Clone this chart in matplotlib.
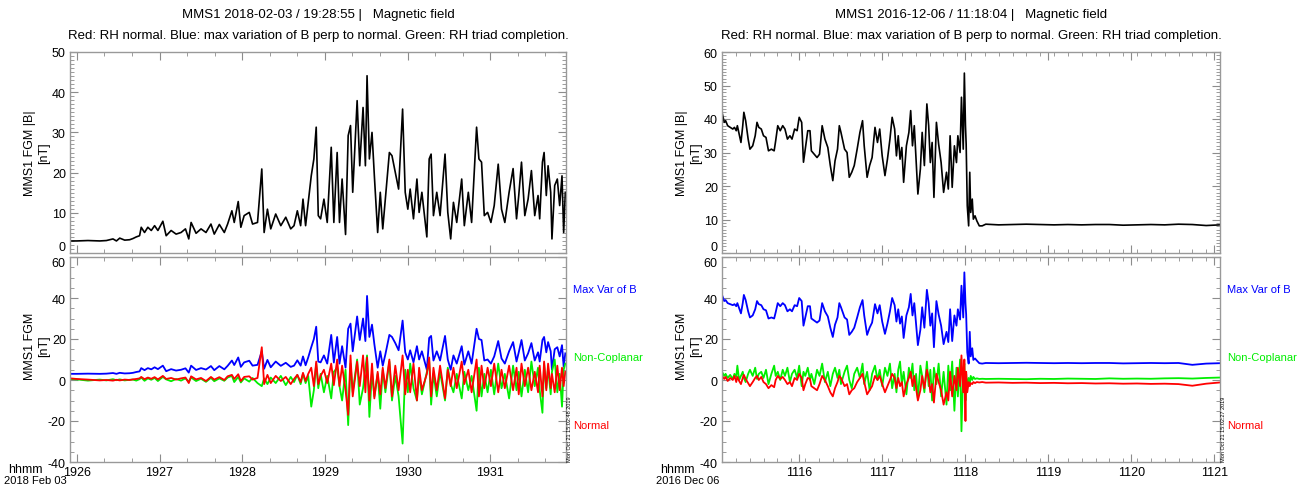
import matplotlib
matplotlib.use("Agg")
import matplotlib.pyplot as plt
from matplotlib.ticker import MultipleLocator, FixedLocator, AutoMinorLocator

plt.rcParams['font.family'] = ['Liberation Sans', 'DejaVu Sans']
plt.rcParams['axes.unicode_minus'] = False

# ---- left event: seconds after 19:26:00 ----
t_left = [-5, 0, 8, 16.6, 21.4, 26.2, 28.7, 31.1, 34.7, 38.3,
          40.7, 43.1, 45.5, 46.7, 49.1, 51.5, 54.0, 56.4, 58.8, 62.4,
          64.8, 68.4, 72.0, 75.6, 78.8, 81.2, 82.9, 86.5, 90.1, 93.7,
          97.3, 99.7, 103.4, 107.0, 109.4, 112.5, 114.2, 117.1, 119.0, 121.4,
          125.1, 127.5, 131.1, 134.2, 135.9, 138.3, 140.7, 144.3, 148.0, 151.6,
          155.2, 157.6, 160.0, 162.4, 164.1, 166.0, 167.9, 170.1, 172.0, 173.7,
          175.2, 176.9, 179.3, 181.7, 184.6, 186.5, 188.9, 190.6, 192.5, 195.0,
          196.9, 198.6, 200.2, 203.4, 205.3, 207.7, 209.4, 210.6, 212.3, 214.2,
          215.9, 218.3, 220.2, 222.0, 223.9, 226.8, 228.7, 231.1, 233.5, 236.4,
          238.3, 240.2, 241.9, 244.3, 246.8, 248.4, 250.4, 254.0, 255.7, 257.1,
          258.8, 261.2, 263.6, 267.2, 269.2, 271.3, 273.3, 275.7, 279.3, 281.2,
          284.1, 286.5, 290.1, 291.8, 293.7, 295.7, 298.1, 300.5, 302.9, 305.8,
          308.2, 310.6, 313.7, 316.6, 319.1, 320.7, 322.7, 325.1, 327.5, 329.9,
          332.3, 334.7, 335.9, 337.9, 339.1, 340.7, 342.0, 343.9, 344.8, 346.8,
          348.7, 350.4, 352.1, 353.3, 354.5]
b_left = [3.0, 3.0, 3.1, 3.0, 3.1, 3.5, 3.0, 3.7, 3.2, 3.3,
          3.6, 4.0, 4.3, 6.4, 5.1, 6.4, 5.6, 6.8, 5.6, 7.9,
          4.3, 5.6, 4.7, 5.1, 6.0, 3.5, 7.6, 4.9, 6.0, 5.1,
          7.2, 4.7, 7.1, 5.1, 7.2, 10.5, 7.6, 12.8, 6.4, 9.3,
          10.1, 7.2, 7.6, 20.9, 5.1, 10.9, 6.0, 9.7, 6.8, 8.9,
          6.0, 6.8, 10.5, 6.8, 13.4, 6.8, 12.6, 19.2, 23.4, 31.3,
          9.3, 8.5, 13.4, 7.6, 26.3, 7.6, 25.0, 7.6, 18.4, 4.6,
          29.2, 31.7, 15.1, 37.9, 21.7, 36.2, 21.7, 44.1, 23.4, 30.0,
          19.2, 5.1, 15.1, 6.0, 13.4, 25.0, 24.2, 20.1, 15.9, 35.8,
          15.1, 10.9, 15.9, 8.5, 18.4, 10.1, 15.1, 4.0, 23.4, 24.6,
          9.3, 15.1, 9.3, 24.6, 10.1, 3.5, 12.6, 7.6, 18.4, 6.8,
          15.1, 7.6, 31.3, 23.4, 22.6, 9.3, 10.1, 7.6, 11.8, 22.1,
          10.9, 7.6, 15.1, 21.0, 8.5, 14.3, 22.6, 9.3, 13.4, 20.5,
          9.3, 14.3, 8.5, 22.6, 25.0, 14.3, 21.7, 15.1, 3.5, 16.8,
          18.4, 11.8, 19.2, 5.1, 15.1]
maxvar_left = [3.0, 3.0, 3.1, 3.0, 3.1, 3.4, 3.0, 3.5, 3.2, 3.3,
               3.5, 3.9, 4.2, 5.8, 4.8, 5.8, 5.2, 6.2, 5.3, 7.0,
               4.3, 5.3, 4.6, 5.0, 5.7, 3.6, 7.0, 4.9, 5.8, 5.1,
               6.8, 4.8, 6.8, 5.2, 6.9, 9.5, 7.3, 11.0, 6.4, 8.6,
               9.4, 7.0, 7.4, 14.0, 5.5, 9.8, 6.2, 9.0, 6.9, 8.4,
               6.4, 7.0, 9.6, 7.0, 11.5, 7.2, 11.0, 16.0, 20.0, 26.0,
               9.0, 8.6, 12.0, 8.0, 22.0, 8.5, 21.0, 8.0, 16.5, 6.0,
               25.0, 27.5, 14.0, 31.0, 19.5, 30.0, 19.0, 41.0, 21.0, 27.0,
               17.5, 6.0, 14.0, 7.0, 12.5, 22.0, 21.0, 18.0, 14.5, 29.0,
               13.5, 10.0, 14.5, 8.6, 16.5, 10.0, 14.0, 5.0, 20.5, 21.5,
               9.5, 14.0, 9.5, 21.5, 10.0, 5.0, 12.0, 8.0, 16.5, 7.5,
               14.0, 8.0, 25.0, 20.0, 19.5, 9.5, 10.0, 8.0, 11.5, 19.0,
               10.5, 8.0, 14.0, 18.5, 9.0, 13.5, 19.5, 9.5, 13.0, 18.0,
               9.5, 13.5, 9.0, 19.5, 21.0, 13.5, 18.5, 14.0, 5.0, 15.0,
               16.0, 11.5, 17.0, 6.5, 13.0]
noncop_left = [0.5, 0.3, -0.3, 0.2, -0.2, 0.4, -0.1, 0.3, -0.2, 0.1,
               0.2, -0.3, 0.4, 1.2, -0.4, 0.8, 0.1, 1.0, -0.5, 1.5,
               0.3, -0.6, 0.5, -0.3, 0.8, -0.8, 1.2, -0.5, 0.6, -0.9,
               1.0, -0.6, 0.8, -0.4, 1.2, 2.0, -1.0, 1.5, -1.2, 0.8,
               -0.8, 1.0, -1.5, -3.0, 0.8, -2.0, 1.2, -1.5, 2.0, -2.5,
               1.5, -1.0, 2.5, -2.0, 3.0, -1.5, 2.0, -13.0, -5.0, 8.0,
               -4.0, 3.0, -6.0, 2.0, -9.0, 4.0, 6.0, -3.0, -10.0, 5.0,
               -22.0, 8.0, -6.0, 10.0, -12.0, -4.0, 6.0, 12.0, -18.0, 4.0,
               -8.0, 3.0, -14.0, 5.0, -6.0, 9.0, -10.0, 2.0, -8.0, -31.0,
               5.0, -6.0, 8.0, -4.0, -10.0, 3.0, -7.0, 4.0, 9.0, -12.0,
               3.0, -8.0, 4.0, -10.0, 6.0, -2.0, -6.0, 3.0, -9.0, 4.0,
               -5.0, 2.0, -15.0, 6.0, -8.0, 3.0, -6.0, 5.0, -7.0, 8.0,
               -4.0, 3.0, -9.0, 7.0, -5.0, 4.0, -8.0, 5.0, -6.0, 9.0,
               -3.0, 6.0, -5.0, -16.0, 8.0, -4.0, 6.0, -7.0, 4.0, 10.0,
               -6.0, 3.0, -13.0, 5.0, 8.0]
normal_left = [0.8, 0.5, 0.2, -0.2, 0.0, -0.3, 0.1, -0.2, 0.2, 0.0,
               0.3, 0.5, 0.8, 1.5, 0.4, 1.2, 0.6, 1.4, 0.3, 2.0,
               0.5, 1.0, 0.2, 0.8, 1.2, -1.5, 1.8, 0.3, 1.0, -0.5,
               1.5, 0.2, 1.4, 0.0, 1.8, 2.5, 0.5, 2.8, -0.5, 1.5,
               1.8, 0.2, 1.0, 16.0, -2.0, 2.5, -1.5, 2.0, -0.5, 1.5,
               -2.0, 0.5, 2.5, -1.0, 3.5, -0.5, 3.0, 6.0, -3.0, 9.0,
               -2.0, 2.0, 5.0, -1.5, 8.0, -2.5, 10.0, -3.0, 7.0, -5.0,
               -17.0, 12.0, -8.0, 9.0, -3.0, 12.0, -6.0, 11.0, -10.0, 8.0,
               -9.0, 4.0, -7.0, 6.0, -4.0, 10.0, -8.0, 7.0, -5.0, 12.0,
               -7.0, 5.0, -6.0, 8.0, -10.0, 6.0, -5.0, 3.0, 11.0, -8.0,
               6.0, -5.0, 7.0, -9.0, 5.0, -3.0, 6.0, -4.0, 9.0, -2.0,
               5.0, -6.0, 10.0, -8.0, 7.0, -4.0, 6.0, -3.0, 8.0, -6.0,
               5.0, -4.0, 7.0, -5.0, 6.0, -7.0, 8.0, -3.0, 6.0, -5.0,
               4.0, -6.0, 7.0, -8.0, 9.0, -5.0, 8.0, -4.0, 3.0, -6.0,
               7.0, -5.0, 6.0, -3.0, 4.0]
ticks_left = [0, 60, 120, 180, 240, 300]
labels_left = ['1926', '1927', '1928', '1929', '1930', '1931']

# ---- right event: seconds after 11:15:04 ----
t_right = [0, 1.6, 2.6, 4.1, 5.9, 7.8, 9.0, 10.3, 11.1, 12.4,
           13.7, 15.0, 15.8, 17.1, 18.9, 20.2, 22.2, 24.0, 25.3, 26.6,
           28.4, 30.0, 31.8, 33.6, 35.7, 37.7, 38.8, 40.3, 42.1, 43.9,
           45.5, 47.3, 49.1, 50.6, 52.5, 54.3, 55.8, 57.6, 58.9, 60.2,
           62.0, 63.6, 64.6, 66.7, 68.7, 70.5, 72.4, 74.4, 76.5, 78.3,
           80.1, 81.7, 83.5, 84.8, 86.0, 88.6, 90.4, 92.0, 93.8, 95.6,
           97.7, 99.7, 101.6, 102.8, 104.9, 106.7, 108.5, 110.6, 112.4, 114.0,
           115.8, 117.8, 119.6, 121.4, 123.0, 124.8, 126.1, 127.4, 128.7, 130.0,
           131.3, 133.3, 135.1, 136.4, 137.7, 139.0, 140.3, 141.6, 143.4, 144.7,
           146.3, 148.1, 149.4, 150.6, 151.9, 153.2, 155.0, 156.6, 158.4, 160.2,
           162.3, 163.6, 164.9, 166.4, 168.0, 169.5, 170.5, 172.1, 173.1, 174.4,
           175.2, 176.0, 176.5, 177.3, 178.3, 179.1, 179.8, 180.9, 181.7, 182.9,
           184.2, 186.0, 188.1, 190.7, 200, 210, 220, 230, 240, 250,
           260, 270, 280, 290, 300, 310, 320, 330, 340, 350, 360]
b_right = [42.0, 39.0, 39.5, 38.0, 37.5, 37.0, 37.5, 36.5, 38.0, 35.5,
           33.0, 38.0, 42.0, 39.5, 34.0, 31.0, 32.0, 35.0, 39.0, 37.5,
           37.0, 35.0, 34.5, 30.5, 31.0, 30.5, 33.5, 38.0, 36.5, 38.0,
           37.0, 34.0, 35.0, 34.0, 37.0, 36.5, 40.5, 39.0, 27.1, 31.0,
           36.5, 36.5, 30.5, 29.5, 28.5, 29.5, 38.0, 34.0, 31.5, 26.1,
           21.6, 27.5, 31.0, 38.0, 36.0, 31.0, 30.0, 22.6, 24.1, 26.1,
           31.0, 36.0, 39.5, 32.0, 22.6, 26.1, 28.5, 37.5, 33.0, 37.0,
           29.0, 23.1, 28.0, 34.0, 40.5, 37.0, 29.0, 35.0, 28.0, 31.5,
           21.1, 32.0, 36.0, 42.5, 32.0, 38.0, 28.0, 17.6, 25.1, 36.0,
           26.1, 44.5, 38.0, 27.0, 33.0, 16.6, 39.0, 32.5, 27.0, 18.1,
           24.1, 19.1, 35.0, 19.6, 32.0, 27.0, 35.0, 30.0, 46.5, 31.0,
           53.7, 38.0, 32.5, 14.1, 8.1, 24.1, 12.1, 16.1, 10.1, 11.1,
           9.6, 8.1, 8.1, 8.6, 8.4, 8.5, 8.6, 8.5, 8.4, 8.5,
           8.4, 8.5, 8.5, 8.3, 8.4, 8.5, 8.4, 8.6, 8.5, 8.2, 8.4]
maxvar_right = [41.5, 38.5, 39.0, 37.5, 37.0, 36.5, 37.0, 36.0, 37.5, 35.0,
                32.5, 37.5, 41.5, 39.0, 33.5, 30.5, 31.5, 34.5, 38.5, 37.0,
                36.5, 34.5, 34.0, 30.0, 30.5, 30.0, 33.0, 37.5, 36.0, 37.5,
                36.5, 33.5, 34.5, 33.5, 36.5, 36.0, 40.0, 38.5, 26.5, 30.5,
                36.0, 36.0, 30.0, 29.0, 28.0, 29.0, 37.5, 33.5, 31.0, 25.5,
                21.0, 27.0, 30.5, 37.5, 35.5, 30.5, 29.5, 22.0, 23.5, 25.5,
                30.5, 35.5, 39.0, 31.5, 22.0, 25.5, 28.0, 37.0, 32.5, 36.5,
                28.5, 22.5, 27.5, 33.5, 40.0, 36.5, 28.5, 34.5, 27.5, 31.0,
                20.5, 31.5, 35.5, 42.0, 31.5, 37.5, 27.5, 17.0, 24.5, 35.5,
                25.5, 44.0, 37.5, 26.5, 32.5, 16.0, 38.5, 32.0, 26.5, 17.5,
                23.5, 18.5, 34.5, 19.0, 31.5, 26.5, 34.5, 29.5, 46.0, 30.5,
                52.5, 37.5, 32.0, 13.5, 8.0, 23.5, 11.5, 15.5, 9.8, 10.5,
                9.5, 8.2, 8.0, 8.3, 8.2, 8.3, 8.4, 8.3, 8.2, 8.3,
                8.2, 8.3, 8.3, 8.1, 8.2, 8.3, 8.2, 8.3, 7.4, 8.0, 8.2]
noncop_right = [4.0, 2.0, 3.0, 1.0, 2.5, 0.5, 3.0, 1.5, 7.0, 0.0,
                2.0, 4.0, 1.0, -1.0, 3.0, 5.0, 2.0, 6.0, 0.5, 3.0,
                4.0, 1.0, 5.0, -2.0, 3.0, 7.0, 2.0, 4.0, 0.0, 5.0,
                2.0, 6.0, -1.0, 3.0, 5.0, 1.0, 7.0, -3.0, 4.0, 2.0,
                6.0, 0.0, 3.0, -2.0, 5.0, 2.0, 8.0, -1.0, 4.0, -3.0,
                3.0, 6.0, 1.0, 5.0, -2.0, 4.0, 7.0, 0.0, -4.0, 3.0,
                6.0, 1.0, 8.0, -2.0, 4.0, -5.0, 3.0, 7.0, 0.0, 5.0,
                -3.0, 6.0, 2.0, 8.0, -4.0, 3.0, -6.0, 5.0, 9.0, -2.0,
                4.0, -7.0, 6.0, 1.0, 8.0, -5.0, 3.0, -9.0, 7.0, 2.0,
                -6.0, 9.0, -3.0, 5.0, -10.0, 6.0, -2.0, 8.0, -8.0, 4.0,
                -12.0, 7.0, -5.0, 9.0, -15.0, 6.0, -8.0, 10.0, -25.0, 5.0,
                8.0, -10.0, 3.0, -4.0, 1.0, -2.0, 2.0, 0.0, 1.5, 0.5,
                0.8, 0.5, 0.6, 0.5, 0.6, 0.5, 0.4, 0.6, 0.5, 0.7,
                0.6, 0.5, 0.8, 0.6, 0.7, 0.6, 0.8, 0.9, 0.7, 1.0, 1.2]
normal_right = [2.0, 0.5, 1.5, -0.5, 1.0, 0.0, 2.0, -1.0, 1.5, -0.5,
                -2.0, 1.0, 2.5, 0.5, -1.5, -3.0, -1.0, 1.0, 2.0, 0.0,
                1.5, -1.0, -2.0, -4.0, -2.5, -3.5, 0.0, 2.0, 0.5, 1.5,
                0.0, -2.0, -1.0, -3.0, 1.0, 0.0, 3.0, 1.0, -5.0, -2.0,
                1.0, 0.5, -3.0, -4.0, -5.0, -2.0, 2.0, 0.0, -3.0, -6.0,
                -8.0, -4.0, -1.0, 2.0, 1.0, -3.0, -2.0, -7.0, -5.0, -4.0,
                -1.0, 1.0, 3.0, -1.0, -7.0, -5.0, -3.0, 2.0, 0.0, 2.0,
                -2.0, -6.0, -3.0, 0.0, 3.0, 1.0, -4.0, 1.0, -3.0, -1.0,
                -8.0, -2.0, 1.0, 4.0, -3.0, 2.0, -4.0, -10.0, -5.0, 2.0,
                -4.0, 5.0, 1.0, -6.0, -2.0, -11.0, 3.0, -1.0, -5.0, -12.0,
                -6.0, -10.0, 4.0, -8.0, 2.0, -5.0, 6.0, -3.0, 12.0, -6.0,
                10.0, -20.0, 4.0, -6.0, -1.0, -3.0, -1.5, -2.0, -1.0, -1.5,
                -1.0, -1.2, -1.0, -1.3, -1.2, -1.4, -1.3, -1.5, -1.4, -1.6,
                -1.5, -1.7, -1.6, -1.8, -1.7, -1.9, -1.8, -2.0, -2.8, -1.8, -1.2]
ticks_right = [56, 116, 176, 236, 296, 356]
labels_right = ['1116', '1117', '1118', '1119', '1120', '1121']

W, H = 1298, 489
fig = plt.figure(figsize=(W / 100, H / 100), dpi=100)


def box(x0, y0, x1, y1):
    return [x0 / W, 1 - y1 / H, (x1 - x0) / W, (y1 - y0) / H]


def frame(ax):
    ax.tick_params(which='both', direction='in', top=True, right=True,
                   color='0.55', labelsize=9, pad=3)
    ax.tick_params(which='major', length=6, width=0.8)
    ax.tick_params(which='minor', length=3, width=0.6)
    for s in ax.spines.values():
        s.set_color('0.6')
        s.set_linewidth(1)


axes_pairs = []


def panel(x0, x1, t, b, mv, nc, nm, xlim, xt, xl, xminor, bmax,
          title, date, stamp):
    top = fig.add_axes(box(x0, 53, x1, 254))
    bot = fig.add_axes(box(x0, 258, x1, 463))

    top.plot(t, b, color='black', lw=1.2)
    top.set_xlim(xlim)
    top.set_ylim(0, bmax)
    top.yaxis.set_major_locator(MultipleLocator(10))
    top.yaxis.set_minor_locator(AutoMinorLocator(10))
    top.xaxis.set_major_locator(FixedLocator(xt))
    top.xaxis.set_minor_locator(MultipleLocator(xminor))
    top.set_xticklabels([])
    top.set_ylabel('MMS1 FGM |B|\n[nT]', fontsize=9, linespacing=1.25)
    top.yaxis.set_label_coords(-0.04, 0.5)
    frame(top)

    bot.plot(t, mv, color='#0000ff', lw=1.3)
    bot.plot(t, nc, color='#00ee00', lw=1.3)
    bot.plot(t, nm, color='#ff0000', lw=1.3)
    bot.set_xlim(xlim)
    bot.set_ylim(-40, 60)
    bot.yaxis.set_major_locator(MultipleLocator(20))
    bot.yaxis.set_minor_locator(AutoMinorLocator(4))
    bot.xaxis.set_major_locator(FixedLocator(xt))
    bot.xaxis.set_minor_locator(MultipleLocator(xminor))
    bot.set_xticklabels(xl)
    bot.set_ylabel('MMS1 FGM\n[nT]', fontsize=9, linespacing=1.25)
    bot.yaxis.set_label_coords(-0.04, 0.57)
    frame(bot)
    axes_pairs.append((top, bot))

    cx = (x0 + x1) / 2 / W
    fig.text(cx, 1 - 15 / H, title, ha='center', va='center', fontsize=9.5)
    fig.text(cx, 1 - 36 / H,
             'Red: RH normal. Blue: max variation of B perp to normal. '
             'Green: RH triad completion.',
             ha='center', va='center', fontsize=9.5)

    lx = (x1 + 7) / W
    fig.text(lx, 1 - 290 / H, 'Max Var of B', color='#0000ff', fontsize=8, va='center')
    fig.text(lx, 1 - 358 / H, 'Non-Coplanar', color='#00ee00', fontsize=8, va='center')
    fig.text(lx, 1 - 426 / H, 'Normal', color='#ff0000', fontsize=8, va='center')
    fig.text((x1 + 1) / W, 1 - 462 / H, stamp, rotation=90, fontsize=4,
             ha='left', va='bottom')

    fig.text((x0 - 62) / W, 1 - 470 / H, 'hhmm', fontsize=9, va='center')
    fig.text((x0 - 66) / W, 1 - 481 / H, date, fontsize=8, va='center')


panel(70, 566, t_left, b_left, maxvar_left, noncop_left, normal_left,
      (-5, 355), ticks_left, labels_left, 20, 50,
      'MMS1 2018-02-03 / 19:28:55 |   Magnetic field', '2018 Feb 03',
      'Mon Oct 21 15:02:48 2019')
panel(722, 1220, t_right, b_right, maxvar_right, noncop_right, normal_right,
      (0, 360), ticks_right, labels_right, 10, 60,
      'MMS1 2016-12-06 / 11:18:04 |   Magnetic field', '2016 Dec 06',
      'Mon Oct 21 15:02:27 2019')

# keep the stacked "0" / "60" labels apart, as in the original
fig.canvas.draw()
for top, bot in axes_pairs:
    for tk in top.yaxis.get_major_ticks():
        if abs(tk.get_loc()) < 1e-9:
            tk.label1.set_verticalalignment('bottom')
    for tk in bot.yaxis.get_major_ticks():
        if abs(tk.get_loc() - 60) < 1e-9:
            tk.label1.set_verticalalignment('top')

fig.savefig('out.png', dpi=100)
